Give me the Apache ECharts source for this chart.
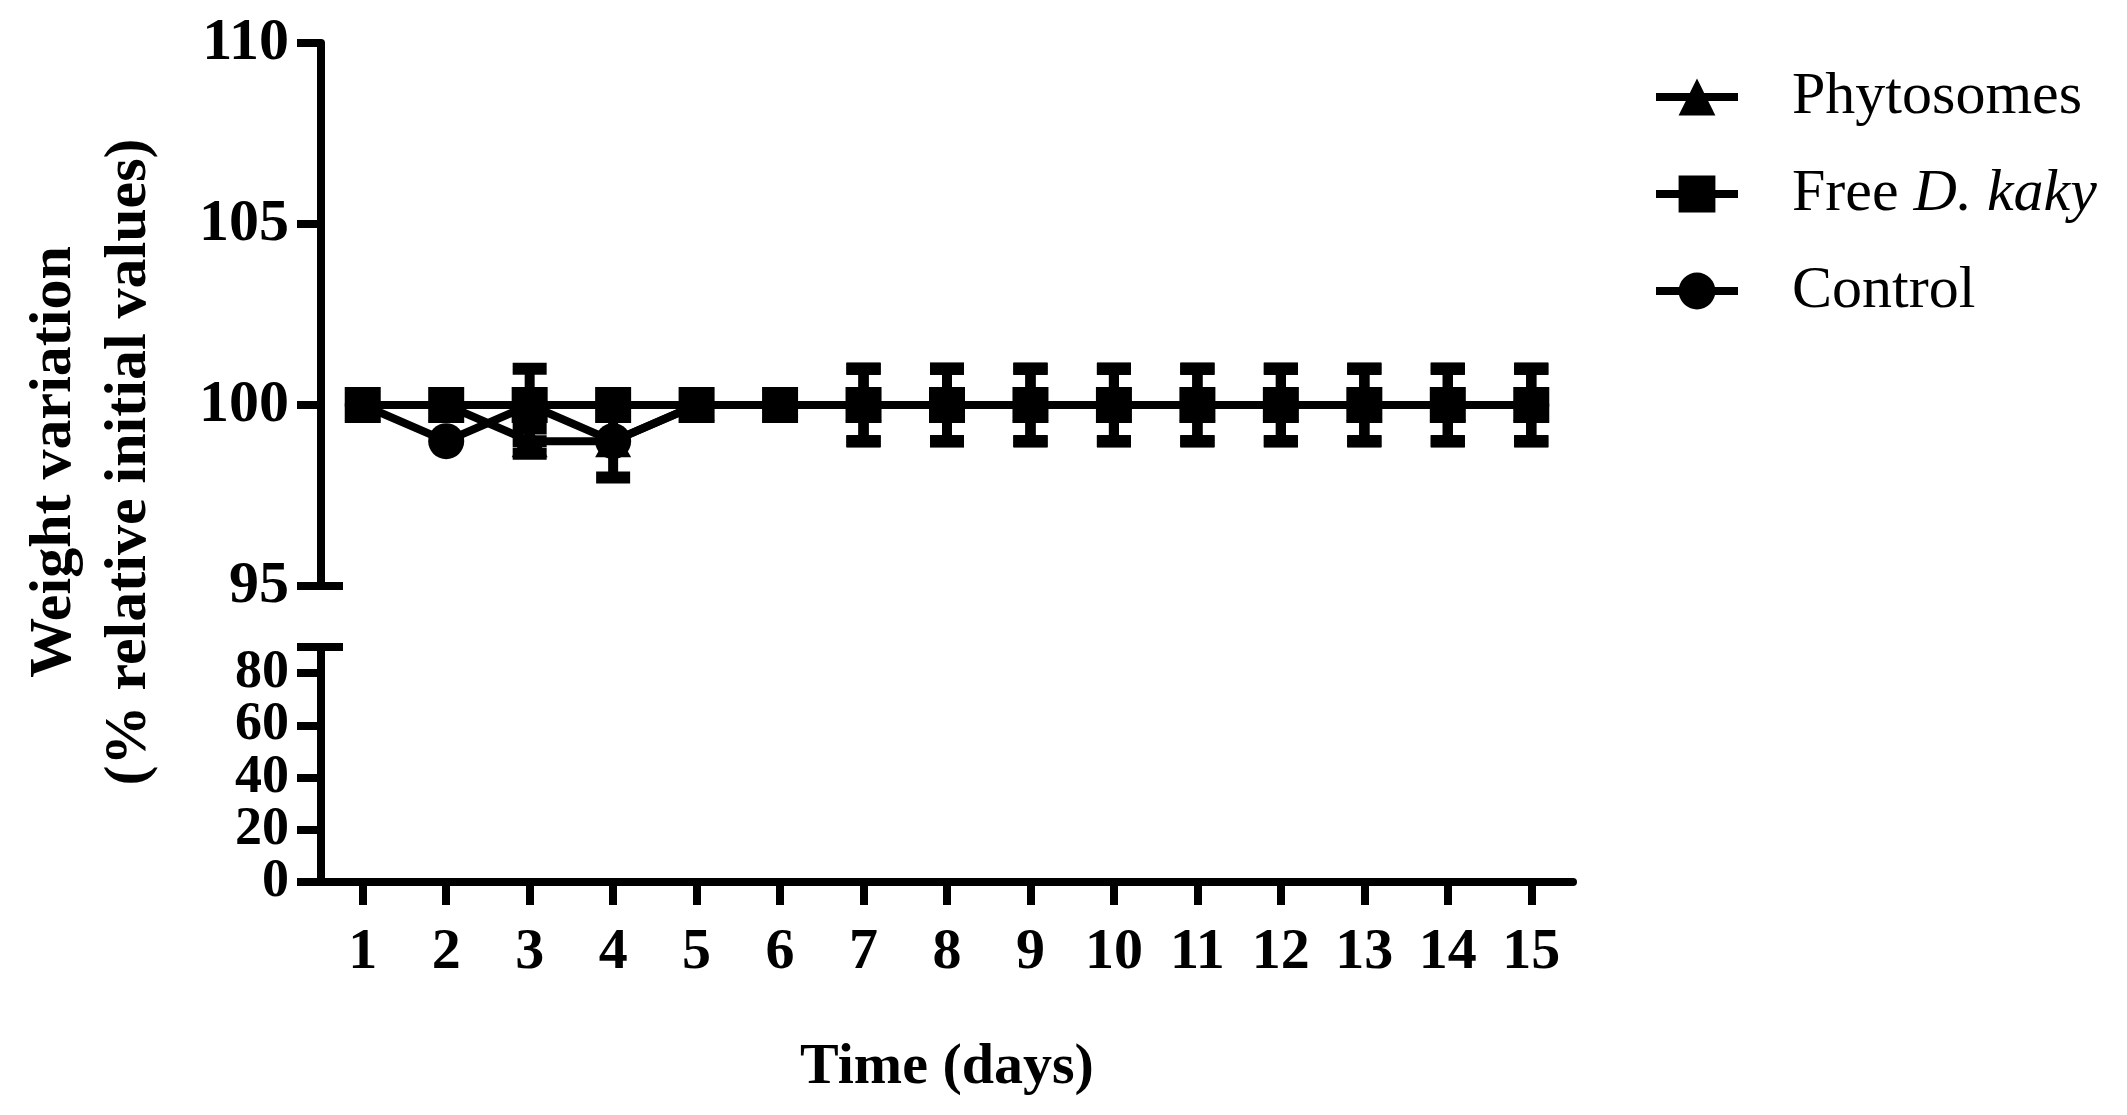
<!DOCTYPE html>
<html>
<head>
<meta charset="utf-8">
<script src="https://cdn.jsdelivr.net/npm/echarts@6/dist/echarts.min.js"></script>
<style>
html,body{margin:0;padding:0;background:#fff;}
#chart{width:2127px;height:1115px;}
</style>
</head>
<body>
<div id="chart"></div>
<script>
// ---- data ----
const days = ['1','2','3','4','5','6','7','8','9','10','11','12','13','14','15'];
const phytosomes    = [100,100,99,99,100,100,100,100,100,100,100,100,100,100,100];
const phytosomesErr = [0,0,0.35,0,0,0,1,1,1,1,1,1,1,1,1];
const freeDKaky     = [100,100,100,100,100,100,100,100,100,100,100,100,100,100,100];
const freeDKakyErr  = [0,0,1,0,0,0,1,1,1,1,1,1,1,1,1];
const control       = [100,99,100,99,100,100,100,100,100,100,100,100,100,100,100];
const controlErr    = [0,0,0,1,0,0,1,1,1,1,1,1,1,1,1];
const upperTicks = [95,100,105,110];
const lowerTicks = [0,20,40,60,80];
const lowerBreak = 90;

const FONT = '"Liberation Serif", "Times New Roman", serif';
const chart = echarts.init(document.getElementById('chart'), null, {renderer:'canvas'});

function errData(vals, errs){
  return vals.map((v,i)=>[i, v, errs[i]]);
}
function errRender(params, api){
  const x = api.value(0), y = api.value(1), e = api.value(2);
  if (!e) return null;
  const top = api.coord([x, y+e]);
  const bot = api.coord([x, y-e]);
  const hw = 17;
  const st = {stroke:'#000', lineWidth:10};
  const cs = {stroke:'#000', lineWidth:12};
  return {type:'group', children:[
    {type:'line', shape:{x1:top[0],y1:top[1],x2:bot[0],y2:bot[1]}, style:st},
    {type:'line', shape:{x1:top[0]-hw,y1:top[1],x2:top[0]+hw,y2:top[1]}, style:cs},
    {type:'line', shape:{x1:bot[0]-hw,y1:bot[1],x2:bot[0]+hw,y2:bot[1]}, style:cs}
  ]};
}

const axisLineStyle = {color:'#000', width:8};
const labelStyle = {color:'#000', fontFamily:FONT, fontWeight:'bold', fontSize:58};
const lowerLabelsA = lowerTicks.filter((v,i)=>i%2===0);
const lowerLabelsB = lowerTicks.filter((v,i)=>i%2===1);

const option = {
  backgroundColor:'#fff',
  animation:false,
  grid:[
    {left:321, width:1252, top:43, height:543},
    {left:321, width:1252, top:647, height:235}
  ],
  xAxis:[
    {type:'category', gridIndex:0, data:days, boundaryGap:true, show:false},
    {type:'category', gridIndex:1, data:days, boundaryGap:true,
      axisLine:{show:true, lineStyle:axisLineStyle},
      axisTick:{show:true, alignWithLabel:true, length:23, lineStyle:{color:'#000', width:8}},
      axisLabel:Object.assign({margin:42, interval:0}, labelStyle),
      splitLine:{show:false}
    }
  ],
  yAxis:[
    {type:'value', gridIndex:0, position:'left', min:95, max:110, interval:5,
      axisLine:{show:true, lineStyle:axisLineStyle},
      axisTick:{show:true, length:24, lineStyle:{color:'#000', width:8}, customValues:upperTicks},
      axisLabel:Object.assign({}, labelStyle, {margin:32, fontSize:60, customValues:upperTicks, showMinLabel:true, showMaxLabel:true}),
      splitLine:{show:false}
    },
    {type:'value', gridIndex:0, position:'left', min:95, max:110, interval:5,
      axisLine:{show:false},
      axisTick:{show:true, inside:true, length:22, lineStyle:{color:'#000', width:8}, customValues:[upperTicks[0]]},
      axisLabel:{show:false}, splitLine:{show:false}
    },
    {type:'value', gridIndex:1, position:'left', min:0, max:lowerBreak,
      axisLine:{show:true, lineStyle:axisLineStyle},
      axisTick:{show:true, length:24, lineStyle:{color:'#000', width:8}, customValues:lowerTicks.concat([lowerBreak])},
      axisLabel:Object.assign({}, labelStyle, {margin:32, fontSize:54, customValues:lowerLabelsA, showMinLabel:true, showMaxLabel:true}),
      splitLine:{show:false}
    },
    {type:'value', gridIndex:1, position:'left', min:0, max:lowerBreak,
      axisLine:{show:false},
      axisTick:{show:true, inside:true, length:22, lineStyle:{color:'#000', width:8}, customValues:[lowerBreak]},
      axisLabel:Object.assign({}, labelStyle, {margin:32, fontSize:54, customValues:lowerLabelsB, showMinLabel:true, showMaxLabel:true}),
      splitLine:{show:false}
    }
  ],
  legend:{
    orient:'vertical', left:1647, top:62,
    itemWidth:82, itemHeight:46, itemGap:37,
    data:['Phytosomes','Free D. kaky','Control'],
    lineStyle:{width:8, color:'#000'},
    formatter:function(name){
      if (name === 'Free D. kaky') return 'Free {i|D. kaky}';
      return name;
    },
    textStyle:{color:'#000', fontFamily:FONT, fontSize:60, lineHeight:60, padding:[0,0,0,49],
      rich:{i:{fontFamily:FONT, fontStyle:'italic', fontSize:60, color:'#000'}}}
  },
  graphic:[{
    type:'text', x:92, y:462, rotation:Math.PI/2,
    style:{text:'Weight variation\n(% relative initial values)', font:'bold 60px "Liberation Serif"',
      fill:'#000', align:'center', verticalAlign:'middle', lineHeight:75}
  },{
    type:'text', x:947, y:1068,
    style:{text:'Time (days)', font:'bold 58px "Liberation Serif"', fill:'#000', align:'center', verticalAlign:'middle'}
  }],
  series:[
    {type:'custom', xAxisIndex:0, yAxisIndex:0, data:errData(phytosomes, phytosomesErr), renderItem:errRender, z:1, silent:true},
    {type:'custom', xAxisIndex:0, yAxisIndex:0, data:errData(control, controlErr), renderItem:errRender, z:1, silent:true},
    {type:'custom', xAxisIndex:0, yAxisIndex:0, data:errData(freeDKaky, freeDKakyErr), renderItem:errRender, z:1, silent:true},
    {name:'Phytosomes', type:'line', xAxisIndex:0, yAxisIndex:0, data:phytosomes,
      symbol:'triangle', symbolSize:[36,32], z:3,
      lineStyle:{color:'#000', width:8}, itemStyle:{color:'#000'}},
    {name:'Control', type:'line', xAxisIndex:0, yAxisIndex:0, data:control,
      symbol:'circle', symbolSize:36, z:4,
      lineStyle:{color:'#000', width:8}, itemStyle:{color:'#000'}},
    {name:'Free D. kaky', type:'line', xAxisIndex:0, yAxisIndex:0, data:freeDKaky,
      symbol:'rect', symbolSize:36, z:5,
      lineStyle:{color:'#000', width:8}, itemStyle:{color:'#000'}}
  ]
};
chart.setOption(option);
</script>
</body>
</html>
